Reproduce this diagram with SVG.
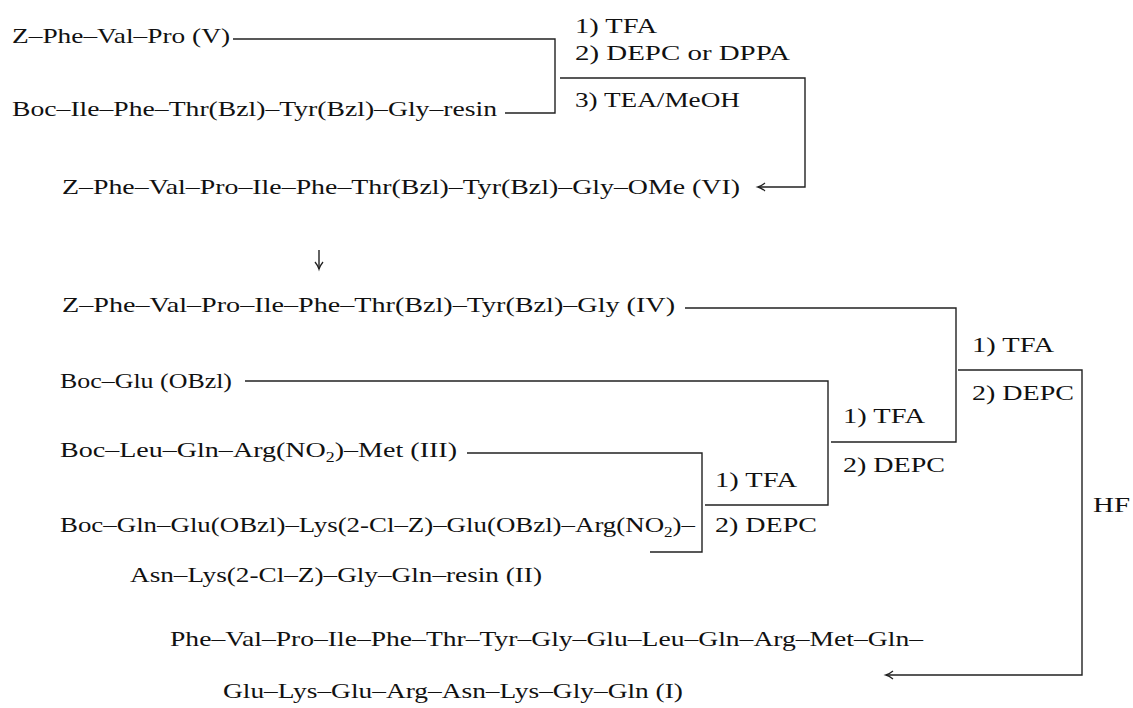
<svg xmlns="http://www.w3.org/2000/svg" width="1133" height="708" viewBox="0 0 1133 708">
<style>
text{font-family:"Liberation Serif","DejaVu Serif",serif;font-size:22px;fill:#111}
.sub{font-size:14px}
.ln{fill:none;stroke:#222;stroke-width:1.4}
</style>
<defs>
<marker id="ah" markerUnits="userSpaceOnUse" markerWidth="14" markerHeight="12" viewBox="-8 -6 10 12" refX="0" refY="0" orient="auto">
<path d="M-7,-4 Q-3,-0.8 0,0 Q-3,0.8 -7,4" fill="none" stroke="#222" stroke-width="1.3"/>
</marker>
</defs>
<rect width="1133" height="708" fill="#fff"/>
<g id="connectors">
<path class="ln" d="M233,39 H555 V113 H505"/>
<path class="ln" d="M560,78 H805 V187 H758" marker-end="url(#ah)"/>
<path class="ln" d="M319,250 V269" marker-end="url(#ah)"/>
<path class="ln" d="M685,308 H956 V442 H831"/>
<path class="ln" d="M245,381 H828 V505 H705"/>
<path class="ln" d="M467,453 H702 V552 H650"/>
<path class="ln" d="M958,370 H1082 V675 H886" marker-end="url(#ah)"/>
</g>
<g id="n_V"><text x="12" y="43" textLength="218" lengthAdjust="spacingAndGlyphs">Z–Phe–Val–Pro (V)</text></g>
<g id="n_resin1"><text x="12" y="116" textLength="485" lengthAdjust="spacingAndGlyphs">Boc–Ile–Phe–Thr(Bzl)–Tyr(Bzl)–Gly–resin</text></g>
<g id="r_step1">
<text x="575" y="33" textLength="82" lengthAdjust="spacingAndGlyphs">1) TFA</text>
<text x="575" y="60" textLength="215" lengthAdjust="spacingAndGlyphs">2) DEPC or DPPA</text>
<text x="575" y="107" textLength="165" lengthAdjust="spacingAndGlyphs">3) TEA/MeOH</text>
</g>
<g id="n_VI"><text x="62" y="194" textLength="678" lengthAdjust="spacingAndGlyphs">Z–Phe–Val–Pro–Ile–Phe–Thr(Bzl)–Tyr(Bzl)–Gly–OMe (VI)</text></g>
<g id="n_IV"><text x="62" y="312" textLength="613" lengthAdjust="spacingAndGlyphs">Z–Phe–Val–Pro–Ile–Phe–Thr(Bzl)–Tyr(Bzl)–Gly (IV)</text></g>
<g id="n_GluOBzl"><text x="60" y="388" textLength="172" lengthAdjust="spacingAndGlyphs">Boc–Glu (OBzl)</text></g>
<g id="n_III"><text x="60" y="457" textLength="397" lengthAdjust="spacingAndGlyphs">Boc–Leu–Gln–Arg(NO<tspan class="sub" dy="5">2</tspan><tspan dy="-5">)–Met (III)</tspan></text></g>
<g id="n_II">
<text x="60" y="532" textLength="635" lengthAdjust="spacingAndGlyphs">Boc–Gln–Glu(OBzl)–Lys(2-Cl–Z)–Glu(OBzl)–Arg(NO<tspan class="sub" dy="5">2</tspan><tspan dy="-5">)–</tspan></text>
<text x="130" y="582" textLength="412" lengthAdjust="spacingAndGlyphs">Asn–Lys(2-Cl–Z)–Gly–Gln–resin (II)</text>
</g>
<g id="r_step2">
<text x="715" y="487" textLength="82" lengthAdjust="spacingAndGlyphs">1) TFA</text>
<text x="715" y="532" textLength="102" lengthAdjust="spacingAndGlyphs">2) DEPC</text>
</g>
<g id="r_step3">
<text x="843" y="423" textLength="82" lengthAdjust="spacingAndGlyphs">1) TFA</text>
<text x="843" y="472" textLength="102" lengthAdjust="spacingAndGlyphs">2) DEPC</text>
</g>
<g id="r_step4">
<text x="972" y="352" textLength="82" lengthAdjust="spacingAndGlyphs">1) TFA</text>
<text x="972" y="400" textLength="102" lengthAdjust="spacingAndGlyphs">2) DEPC</text>
</g>
<g id="r_HF"><text x="1093" y="512" textLength="37" lengthAdjust="spacingAndGlyphs">HF</text></g>
<g id="n_I">
<text x="170" y="646" textLength="753" lengthAdjust="spacingAndGlyphs">Phe–Val–Pro–Ile–Phe–Thr–Tyr–Gly–Glu–Leu–Gln–Arg–Met–Gln–</text>
<text x="223" y="698" textLength="460" lengthAdjust="spacingAndGlyphs">Glu–Lys–Glu–Arg–Asn–Lys–Gly–Gln (I)</text>
</g>
</svg>
